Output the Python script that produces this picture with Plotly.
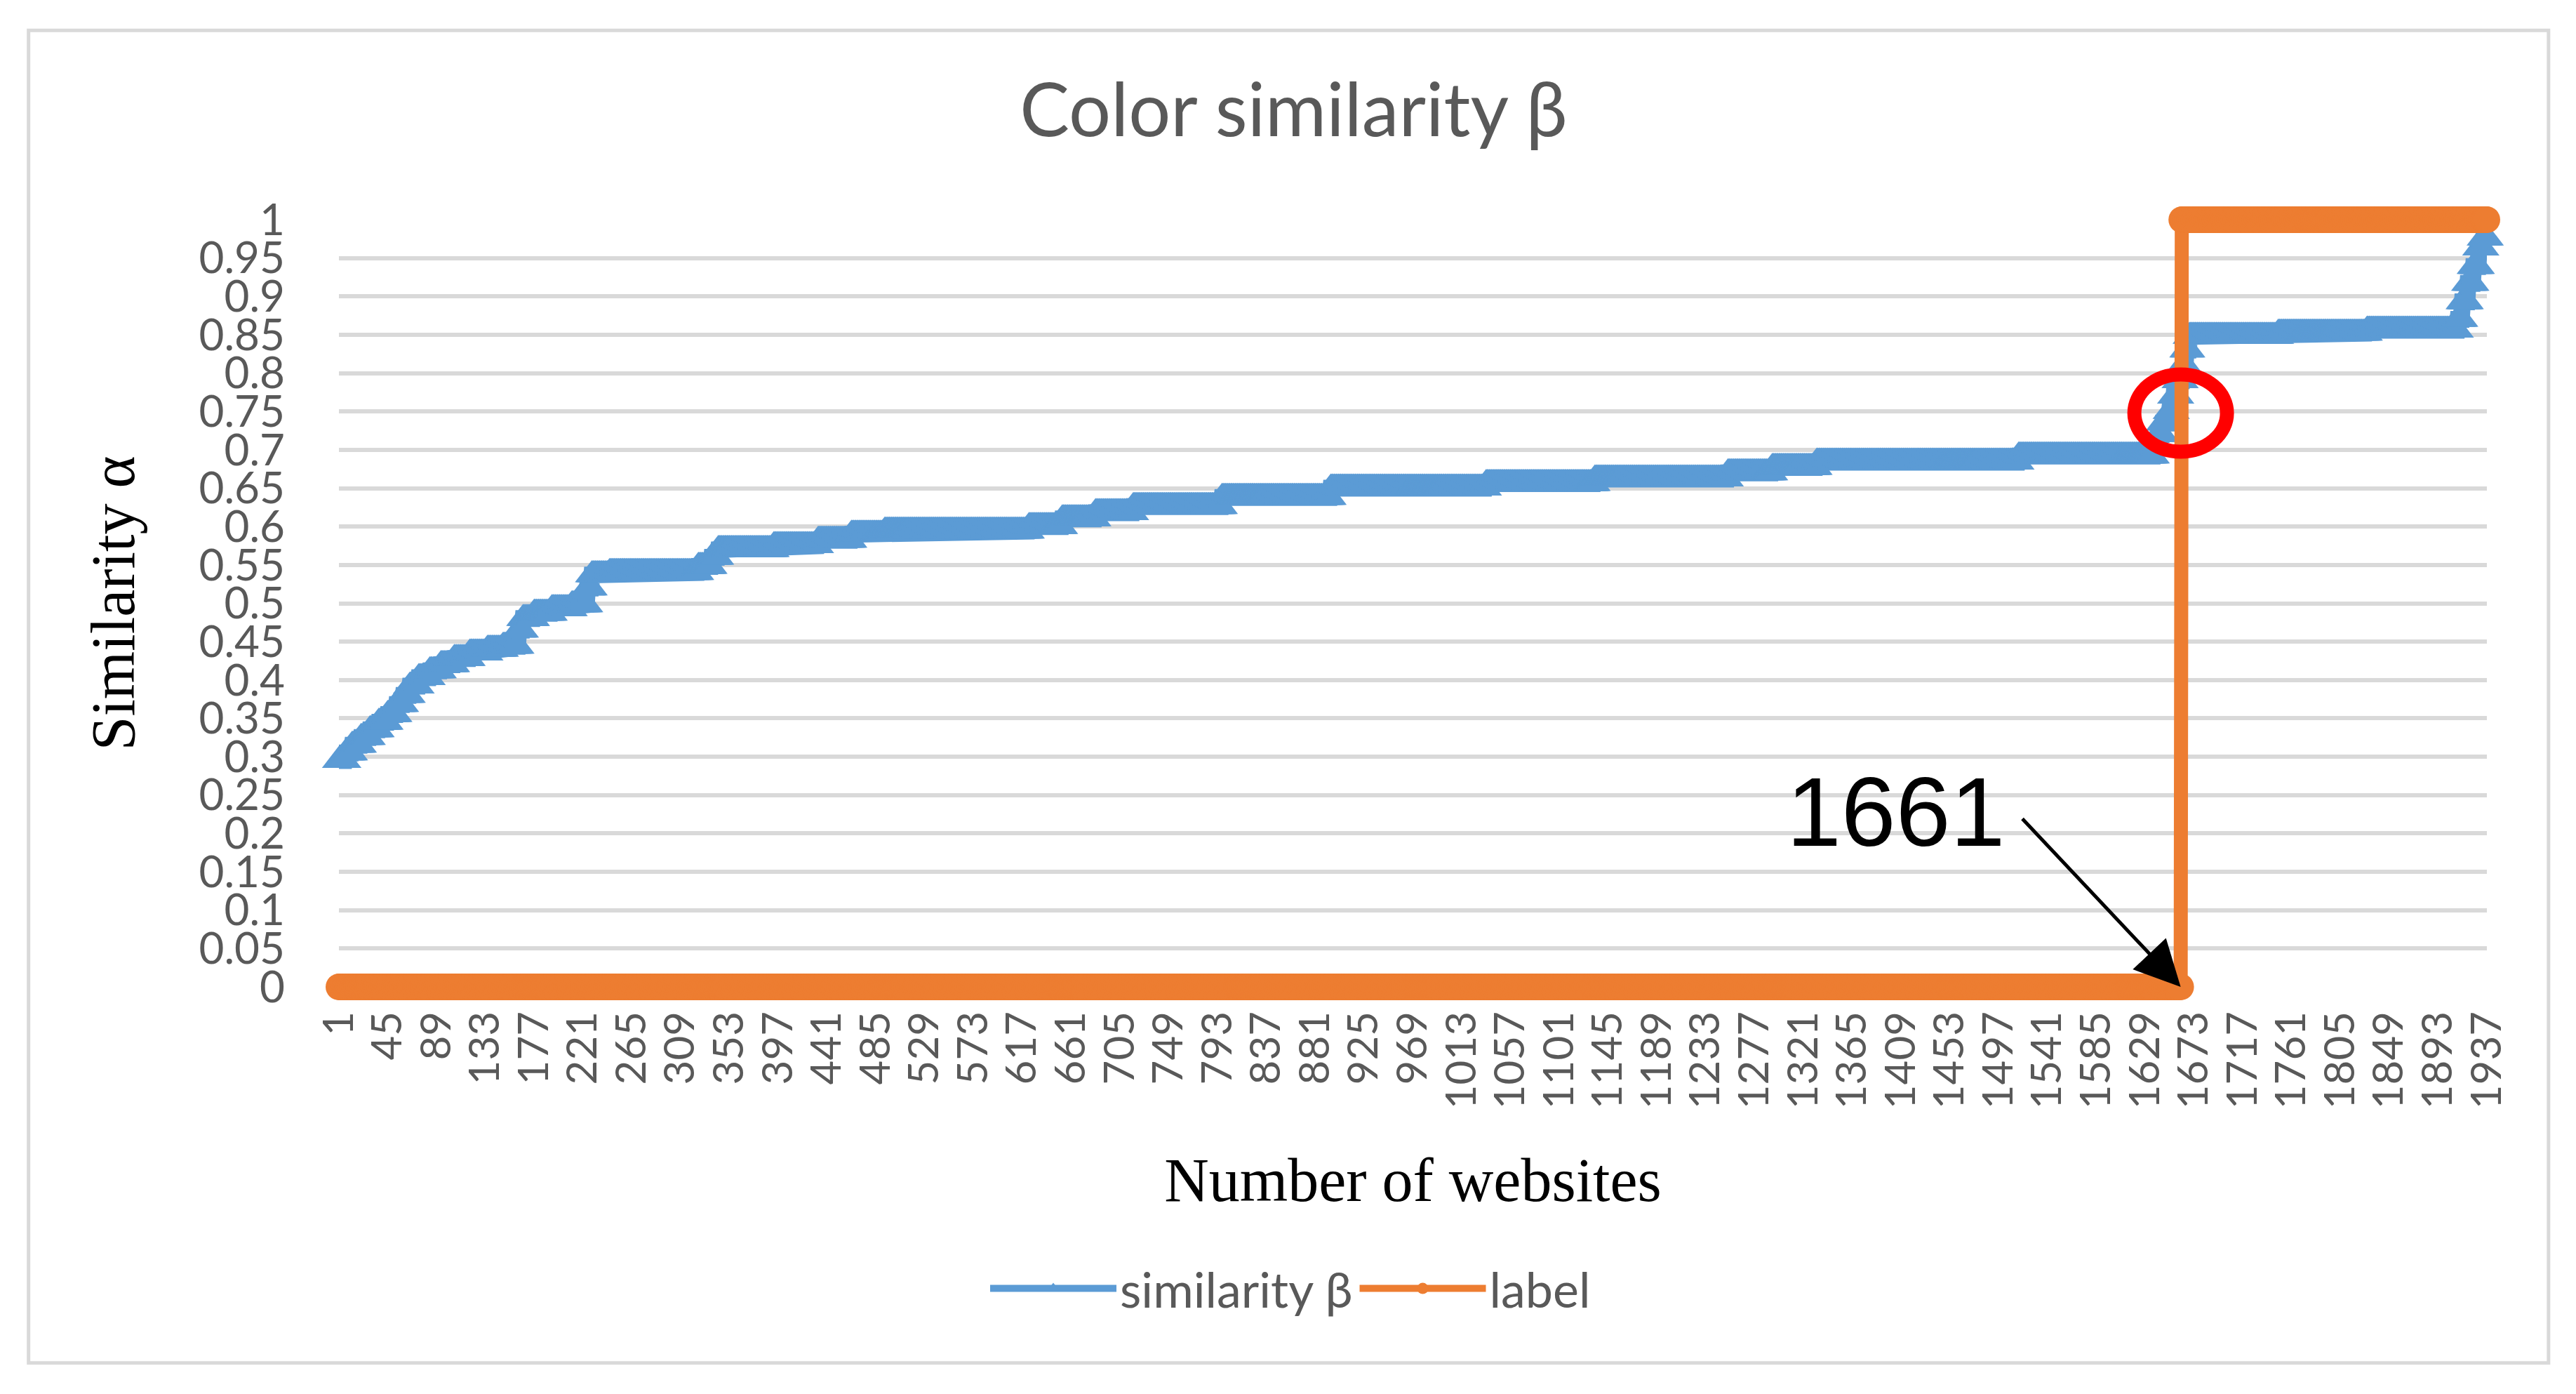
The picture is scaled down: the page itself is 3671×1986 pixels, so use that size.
import numpy as np
import plotly.graph_objects as go

# ---- data (run-length encoded) ----
n_websites = 1937

# similarity beta: sorted values, given as plateau levels and their run lengths
sim_levels = [0.295, 0.305, 0.315, 0.325, 0.335, 0.345, 0.355, 0.368, 0.380, 0.392,
              0.403, 0.412, 0.420, 0.428, 0.435, 0.440, 0.444, 0.465, 0.480, 0.487,
              0.493, 0.498, 0.520, 0.537, 0.540, 0.548, 0.560, 0.570, 0.575, 0.582,
              0.590, 0.594, 0.600, 0.610, 0.618, 0.626, 0.638, 0.650, 0.656, 0.662,
              0.670, 0.677, 0.684, 0.692, 0.705, 0.720, 0.735, 0.750, 0.770, 0.790,
              0.810, 0.830, 0.848, 0.852, 0.856, 0.870, 0.893, 0.917, 0.939, 0.963,
              0.976]
sim_runs = [6, 6, 8, 8, 8, 8, 8, 6, 6, 8,
            10, 10, 12, 14, 16, 14, 14, 4, 10, 16,
            18, 14, 4, 16, 80, 12, 6, 50, 40, 30,
            30, 130, 30, 30, 34, 80, 98, 140, 98, 120,
            40, 40, 182, 122, 4, 4, 6, 4, 4, 4,
            3, 3, 80, 80, 82, 4, 5, 5, 5, 4,
            4]

# label: 0 (legitimate) then 1 (phishing)
label_levels = [0, 1]
label_runs = [1661, 276]

x_tick_labels = [str(v) for v in range(1, 1938, 44)]
y_tick_vals = [round(i * 0.05, 2) for i in range(21)]
y_tick_text = ["0", "0.05", "0.1", "0.15", "0.2", "0.25", "0.3", "0.35", "0.4", "0.45",
               "0.5", "0.55", "0.6", "0.65", "0.7", "0.75", "0.8", "0.85", "0.9", "0.95", "1"]

# ---- decode runs ----
similarity = np.repeat(sim_levels, sim_runs)
label = np.repeat(label_levels, label_runs)
x = np.arange(1, len(similarity) + 1)

BLUE = "#5B9BD5"
ORANGE = "#ED7D31"
GREY = "#595959"

fig = go.Figure()
fig.add_trace(go.Scatter(
    x=x, y=similarity, name="similarity β", mode="lines+markers",
    line=dict(color=BLUE, width=24),
    marker=dict(symbol="triangle-up", size=42, color=BLUE),
    cliponaxis=False,
))
fig.add_trace(go.Scatter(
    x=np.arange(1, len(label) + 1), y=label, name="label", mode="lines+markers",
    line=dict(color=ORANGE, width=20),
    marker=dict(symbol="circle", size=38, color=ORANGE),
    cliponaxis=False,
))

# red circle highlighting the threshold crossing
fig.add_shape(type="circle", xref="x", yref="y", xsizemode="pixel", ysizemode="pixel",
              xanchor=1661, yanchor=0.748, x0=-66, x1=66, y0=-55, y1=55,
              line=dict(color="#FF0000", width=20), layer="above")

# annotation text and arrow
fig.add_annotation(x=1404, y=0.228, xref="x", yref="y", text="1661", showarrow=False,
                   font=dict(family="Liberation Sans", size=140, color="black"))
fig.add_annotation(x=1661, y=0, xref="x", yref="y", text="", showarrow=True,
                   ax=-227, ay=-241, arrowhead=2, arrowsize=2.6, arrowwidth=5,
                   arrowcolor="black", standoff=0)

# outer chart frame
fig.add_shape(type="rect", xref="paper", yref="paper",
              x0=-0.1445, x1=1.0287, y0=-0.4902, y1=1.2469,
              line=dict(color="#D9D9D9", width=5), layer="below")

fig.update_layout(
    width=3671, height=1986,
    paper_bgcolor="white", plot_bgcolor="white",
    margin=dict(l=475, r=135, t=305, b=588),
    title=dict(text="Color similarity β", x=0.5, xref="container", y=0.925,
               yref="container", xanchor="center", yanchor="middle",
               font=dict(family="Lato", size=106, color=GREY)),
    legend=dict(orientation="h", x=0.443, xanchor="center", y=-0.393, yanchor="middle",
                font=dict(family="Lato", size=70, color=GREY), itemwidth=180),
    showlegend=True,
)
fig.update_xaxes(
    range=[1, n_websites], tickmode="array",
    tickvals=[int(v) for v in x_tick_labels], ticktext=x_tick_labels,
    tickangle=-90, ticklabelstandoff=22,
    tickfont=dict(family="Lato", size=60, color=GREY),
    showgrid=False, zeroline=False, showline=False,
    title=dict(text="Number of websites", standoff=70,
               font=dict(family="Liberation Serif", size=88, color="black")),
)
fig.update_yaxes(
    range=[0, 1], tickmode="array", tickvals=y_tick_vals, ticktext=y_tick_text,
    ticklabelstandoff=76,
    tickfont=dict(family="Lato", size=62, color=GREY),
    showgrid=True, gridcolor="#D9D9D9", gridwidth=6, zeroline=False, showline=False,
    title=dict(text="Similarity α", standoff=62,
               font=dict(family="Liberation Serif", size=88, color="black")),
)

fig.write_html("out.html")
